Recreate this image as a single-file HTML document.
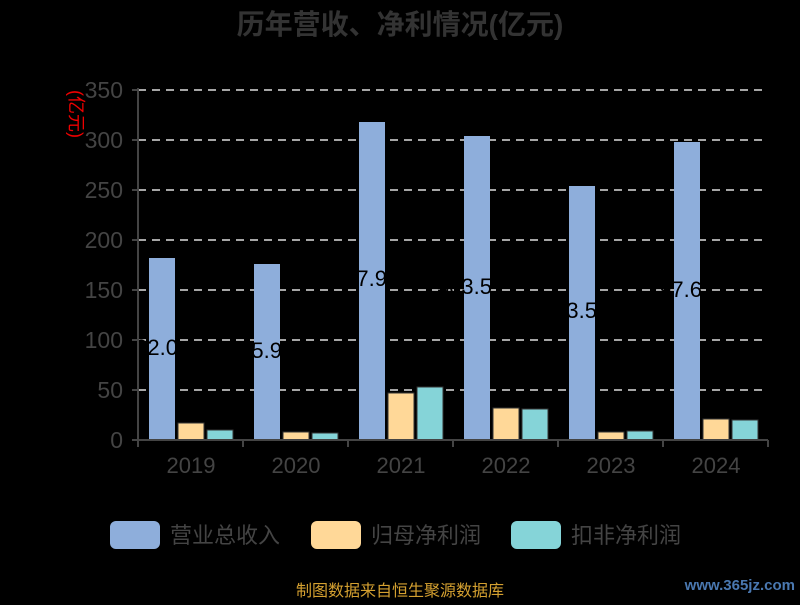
<!DOCTYPE html>
<html><head><meta charset="utf-8"><style>
body{margin:0;background:#000;}
text{font-family:"Liberation Sans","Noto Sans CJK SC",sans-serif;}
</style></head><body>
<svg width="800" height="600" xmlns="http://www.w3.org/2000/svg">
<rect width="800" height="600" fill="#000"/>
<text x="400" y="34" text-anchor="middle" font-size="28" font-weight="bold" fill="#333">历年营收、净利情况(亿元)</text>
<g stroke="#ddd" stroke-width="1.5" stroke-dasharray="8,6">
<line x1="138" x2="768" y1="90" y2="90"/><line x1="138" x2="768" y1="140" y2="140"/>
<line x1="138" x2="768" y1="190" y2="190"/><line x1="138" x2="768" y1="240" y2="240"/>
<line x1="138" x2="768" y1="290" y2="290"/><line x1="138" x2="768" y1="340" y2="340"/>
<line x1="138" x2="768" y1="390" y2="390"/>
</g>
<g font-size="23" fill="#444" text-anchor="end">
<text x="123" y="98">350</text><text x="123" y="148">300</text><text x="123" y="198">250</text>
<text x="123" y="248">200</text><text x="123" y="298">150</text><text x="123" y="348">100</text>
<text x="123" y="398">50</text><text x="123" y="448">0</text>
</g>
<text transform="translate(70,114) rotate(90)" font-size="18" fill="#e00" text-anchor="middle">(亿元)</text>
<g fill="#8eaedb">
<rect x="149" y="258" width="26" height="182"/><rect x="254" y="264" width="26" height="176"/>
<rect x="359" y="122" width="26" height="318"/><rect x="464" y="136" width="26" height="304"/>
<rect x="569" y="186" width="26" height="254"/><rect x="674" y="142" width="26" height="298"/>
</g>
<g fill="#ffd898" stroke="#333" stroke-width="1">
<rect x="178" y="423" width="26" height="17"/><rect x="283" y="432" width="26" height="8"/>
<rect x="388" y="393" width="26" height="47"/><rect x="493" y="408" width="26" height="32"/>
<rect x="598" y="432" width="26" height="8"/><rect x="703" y="419" width="26" height="21"/>
</g>
<g fill="#85d4d8" stroke="#333" stroke-width="1">
<rect x="207" y="430" width="26" height="10"/><rect x="312" y="433" width="26" height="7"/>
<rect x="417" y="387" width="26" height="53"/><rect x="522" y="409" width="26" height="31"/>
<rect x="627" y="431" width="26" height="9"/><rect x="732" y="420" width="26" height="20"/>
</g>
<g font-size="22" fill="#000" text-anchor="end">
<text x="178" y="355">182.0</text><text x="282" y="358">175.9</text>
<text x="387" y="286">317.9</text><text x="492" y="294">303.5</text>
<text x="597" y="318">253.5</text><text x="702" y="297">297.6</text>
</g>
<g stroke="#444" stroke-width="2">
<line x1="138" x2="138" y1="88" y2="441"/><line x1="138" x2="768" y1="440" y2="440"/>
<line x1="132" x2="138" y1="90" y2="90"/><line x1="132" x2="138" y1="140" y2="140"/>
<line x1="132" x2="138" y1="190" y2="190"/><line x1="132" x2="138" y1="240" y2="240"/>
<line x1="132" x2="138" y1="290" y2="290"/><line x1="132" x2="138" y1="340" y2="340"/>
<line x1="132" x2="138" y1="390" y2="390"/><line x1="132" x2="138" y1="440" y2="440"/>
<line x1="138" x2="138" y1="440" y2="447"/><line x1="243" x2="243" y1="440" y2="447"/>
<line x1="348" x2="348" y1="440" y2="447"/><line x1="453" x2="453" y1="440" y2="447"/>
<line x1="558" x2="558" y1="440" y2="447"/><line x1="663" x2="663" y1="440" y2="447"/>
<line x1="768" x2="768" y1="440" y2="447"/>
</g>
<g font-size="22" fill="#444" text-anchor="middle">
<text x="191" y="473">2019</text><text x="296" y="473">2020</text><text x="401" y="473">2021</text>
<text x="506" y="473">2022</text><text x="611" y="473">2023</text><text x="716" y="473">2024</text>
</g>
<rect x="110" y="521" width="50" height="28" rx="6" fill="#8eaedb"/>
<text x="170" y="543" font-size="22" fill="#444">营业总收入</text>
<rect x="311" y="521" width="50" height="28" rx="6" fill="#ffd898"/>
<text x="371" y="543" font-size="22" fill="#444">归母净利润</text>
<rect x="511" y="521" width="50" height="28" rx="6" fill="#85d4d8"/>
<text x="571" y="543" font-size="22" fill="#444">扣非净利润</text>
<text x="400" y="596" text-anchor="middle" font-size="16" fill="#d4a030">制图数据来自恒生聚源数据库</text>
<text x="795" y="590" text-anchor="end" font-size="15" font-weight="bold" fill="#4a78b0">www.365jz.com</text>
</svg>
</body></html>
